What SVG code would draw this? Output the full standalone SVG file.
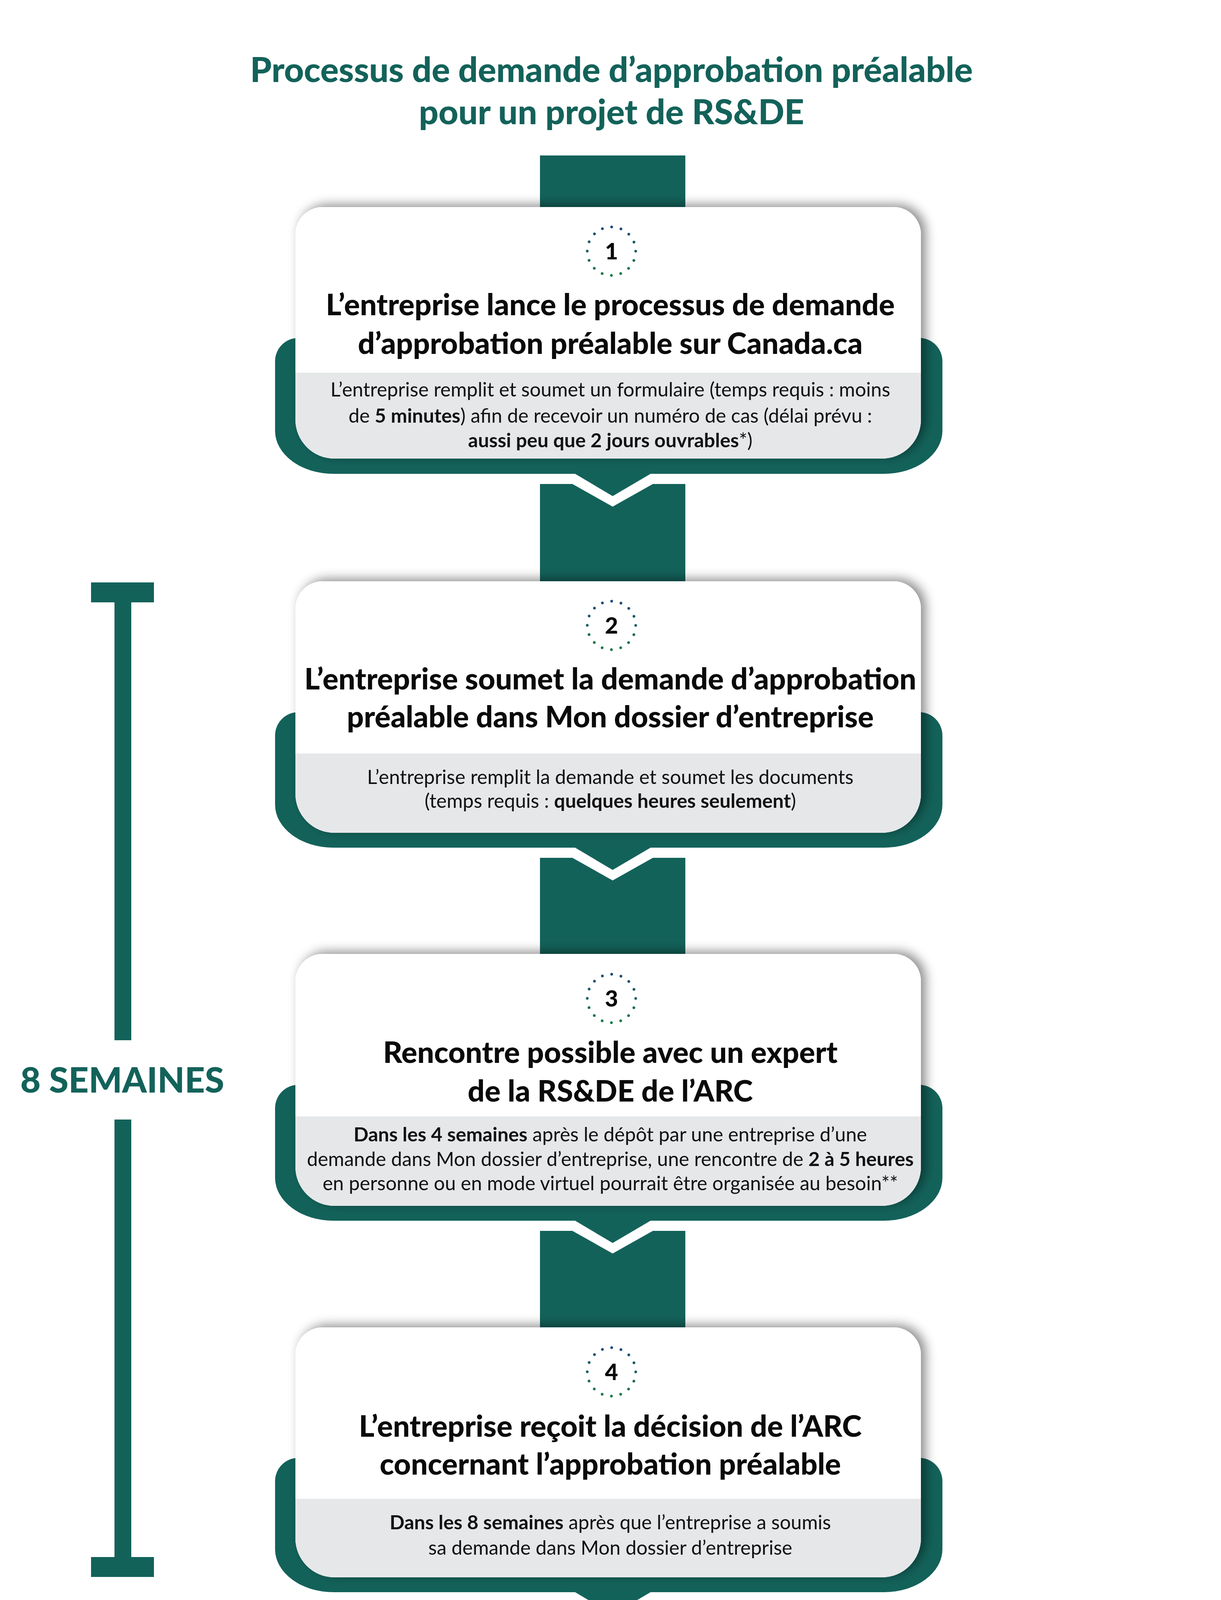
<svg xmlns="http://www.w3.org/2000/svg" width="3125" height="4584" viewBox="0 0 3125 4584">
<defs>
<style>
.teal{fill:#13625a}
.card{fill:#ffffff}
.gray{fill:#e6e7e9}
.h{font-family:Lato,"Liberation Sans",sans-serif;font-weight:900;font-size:76px;fill:#0a0a0a;text-anchor:middle}
.b{font-family:Lato,"Liberation Sans",sans-serif;font-size:50px;fill:#111;text-anchor:middle}
.bb{font-weight:bold}
.num{font-family:Lato,"Liberation Sans",sans-serif;font-weight:900;font-size:58px;fill:#0a0a0a;text-anchor:middle}
.dots{fill:none;stroke:url(#dg);stroke-width:7;stroke-linecap:round;stroke-dasharray:0 24.35}
.foot{font-family:Lato,"Liberation Sans",sans-serif;font-size:40px;fill:#111;text-anchor:middle}
</style>
<linearGradient id="dg" x1="0" y1="0" x2="0" y2="1">
<stop offset="0" stop-color="#1b4a78"/><stop offset="1" stop-color="#1c7a44"/>
</linearGradient>
<filter id="sh" x="-10%" y="-20%" width="125%" height="140%">
<feDropShadow dx="12" dy="-6" stdDeviation="14" flood-color="#000" flood-opacity="0.45"/>
</filter>
</defs>
<rect width="3125" height="4584" fill="#ffffff"/>
<text x="1565" y="210" font-family="Lato,'Liberation Sans',sans-serif" font-weight="900" font-size="88" fill="#13625a" text-anchor="middle">Processus de demande d’approbation préalable</text>
<text x="1565" y="318" font-family="Lato,'Liberation Sans',sans-serif" font-weight="900" font-size="88" fill="#13625a" text-anchor="middle">pour un projet de RS&amp;DE</text>
<g id="connectors">
<rect class="teal" x="1382" y="398" width="372" height="140"/>
<path class="teal" d="M1382 1239 H1465 L1568 1297 L1671 1239 H1754 V1496 H1382 Z"/>
<path class="teal" d="M1382 2196 H1465 L1568 2254 L1671 2196 H1754 V2450 H1382 Z"/>
<path class="teal" d="M1382 3151 H1465 L1568 3209 L1671 3151 H1754 V3406 H1382 Z"/>
</g>
<g id="timeline">
<rect class="teal" x="233" y="1491" width="161" height="51"/>
<rect class="teal" x="293" y="1540" width="43" height="1123"/>
<text x="313" y="2797" font-family="Lato,'Liberation Sans',sans-serif" font-weight="900" font-size="90" fill="#13625a" text-anchor="middle">8 SEMAINES</text>
<rect class="teal" x="293" y="2866" width="43" height="1122"/>
<rect class="teal" x="233" y="3986" width="161" height="51"/>
</g>
<g id="step1">
<path class="teal" d="M764 865 H2352 A60 60 0 0 1 2412 925 V1103 A150 110 0 0 1 2262 1213 H1665 L1568 1270 L1472 1213 H854 A150 110 0 0 1 704 1103 V925 A60 60 0 0 1 764 865 Z"/>
<path class="card" filter="url(#sh)" d="M826 530 H2287 A70 70 0 0 1 2357 600 V1074 A100 100 0 0 1 2257 1174 H856 A100 100 0 0 1 756 1074 V600 A70 70 0 0 1 826 530 Z"/>
<path class="gray" d="M756 954 H2357 V1074 A100 100 0 0 1 2257 1174 H856 A100 100 0 0 1 756 1074 Z"/>
<circle class="dots" cx="1565" cy="643" r="62"/>
<text class="num" x="1565" y="664">1</text>
<text class="h" x="1562" y="807">L’entreprise lance le processus de demande</text>
<text class="h" x="1562" y="906">d’approbation préalable sur Canada.ca</text>
<text class="b" x="1562" y="1015">L’entreprise remplit et soumet un formulaire (temps requis : moins</text>
<text class="b" x="1562" y="1082">de <tspan class="bb">5 minutes</tspan>) afin de recevoir un numéro de cas (délai prévu :</text>
<text class="b" x="1562" y="1145"><tspan class="bb">aussi peu que 2 jours ouvrables</tspan>*)</text>
</g>
<g id="step2">
<path class="teal" d="M764 1823 H2352 A60 60 0 0 1 2412 1883 V2060 A150 110 0 0 1 2262 2170 H1665 L1568 2227 L1472 2170 H854 A150 110 0 0 1 704 2060 V1883 A60 60 0 0 1 764 1823 Z"/>
<path class="card" filter="url(#sh)" d="M826 1488 H2287 A70 70 0 0 1 2357 1558 V2032 A100 100 0 0 1 2257 2132 H856 A100 100 0 0 1 756 2032 V1558 A70 70 0 0 1 826 1488 Z"/>
<path class="gray" d="M756 1929 H2357 V2032 A100 100 0 0 1 2257 2132 H856 A100 100 0 0 1 756 2032 Z"/>
<circle class="dots" cx="1565" cy="1601" r="62"/>
<text class="num" x="1565" y="1622">2</text>
<text class="h" x="1562" y="1765">L’entreprise soumet la demande d’approbation</text>
<text class="h" x="1562" y="1862">préalable dans Mon dossier d’entreprise</text>
<text class="b" x="1562" y="2007">L’entreprise remplit la demande et soumet les documents</text>
<text class="b" x="1562" y="2068">(temps requis : <tspan class="bb">quelques heures seulement</tspan>)</text>
</g>
<g id="step3">
<path class="teal" d="M764 2777 H2352 A60 60 0 0 1 2412 2837 V3015 A150 110 0 0 1 2262 3125 H1665 L1568 3182 L1472 3125 H854 A150 110 0 0 1 704 3015 V2837 A60 60 0 0 1 764 2777 Z"/>
<path class="card" filter="url(#sh)" d="M826 2442 H2287 A70 70 0 0 1 2357 2512 V2987 A100 100 0 0 1 2257 3087 H856 A100 100 0 0 1 756 2987 V2512 A70 70 0 0 1 826 2442 Z"/>
<path class="gray" d="M756 2858 H2357 V2987 A100 100 0 0 1 2257 3087 H856 A100 100 0 0 1 756 2987 Z"/>
<circle class="dots" cx="1565" cy="2556" r="62"/>
<text class="num" x="1565" y="2577">3</text>
<text class="h" x="1562" y="2721">Rencontre possible avec un expert</text>
<text class="h" x="1562" y="2820">de la RS&amp;DE de l’ARC</text>
<text class="b" x="1562" y="2922"><tspan class="bb">Dans les 4 semaines</tspan> après le dépôt par une entreprise d’une</text>
<text class="b" x="1562" y="2985">demande dans Mon dossier d’entreprise, une rencontre de <tspan class="bb">2 à 5 heures</tspan></text>
<text class="b" x="1562" y="3047">en personne ou en mode virtuel pourrait être organisée au besoin**</text>
</g>
<g id="step4">
<path class="teal" d="M764 3732 H2352 A60 60 0 0 1 2412 3792 V3966 A150 110 0 0 1 2262 4076 H1665 L1568 4133 L1472 4076 H854 A150 110 0 0 1 704 3966 V3792 A60 60 0 0 1 764 3732 Z"/>
<path class="card" filter="url(#sh)" d="M826 3398 H2287 A70 70 0 0 1 2357 3468 V3938 A100 100 0 0 1 2257 4038 H856 A100 100 0 0 1 756 3938 V3468 A70 70 0 0 1 826 3398 Z"/>
<path class="gray" d="M756 3837 H2357 V3938 A100 100 0 0 1 2257 4038 H856 A100 100 0 0 1 756 3938 Z"/>
<circle class="dots" cx="1565" cy="3512" r="62"/>
<text class="num" x="1565" y="3533">4</text>
<text class="h" x="1562" y="3678">L’entreprise reçoit la décision de l’ARC</text>
<text class="h" x="1562" y="3775">concernant l’approbation préalable</text>
<text class="b" x="1562" y="3915"><tspan class="bb">Dans les 8 semaines</tspan> après que l’entreprise a soumis</text>
<text class="b" x="1562" y="3980">sa demande dans Mon dossier d’entreprise</text>
</g>
<g id="footnotes">
<text class="foot" x="1560" y="4253">*Les demandeurs existants d’approbation pour un projet de RS&amp;DE dont les affaires sont en règle auprès de l’ARC recevraient un numéro de cas</text>
<text class="foot" x="1560" y="4303">dans Mon dossier d’entreprise dans un délai de 2 jours ouvrables, tandis que les nouveaux demandeurs recevraient un appel téléphonique</text>
<text class="foot" x="1560" y="4353">de l’ARC dans un délai de 5 jours ouvrables.</text>
<text class="foot" x="1560" y="4450">**Une rencontre ne sera peut-être pas nécessaire s’il s’agit d’un demandeur existant d’approbation pour un projet de RS&amp;DE dont les affaires sont</text>
<text class="foot" x="1560" y="4500">en règle auprès de l’ARC. La rencontre est obligatoire pour les nouveaux demandeurs.</text>
</g>
</svg>
